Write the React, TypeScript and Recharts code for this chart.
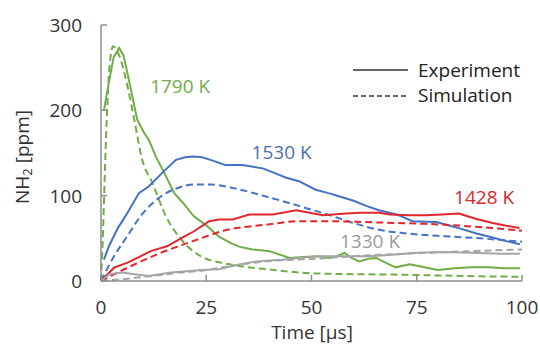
import React from 'react';
import { LineChart, Line, XAxis, YAxis, ReferenceDot } from 'recharts';

const timeTicks = [0, 25, 50, 75, 100];
const ppmTicks = [0, 100, 200, 300];

// 1790 K
const exp1790T = [0.7, 1.7, 3, 4.3, 5.3, 6.3, 7.5, 8.6, 10.2, 11.4, 13, 15, 17.4, 19.4, 22, 25.3, 28, 31, 33, 36, 40, 44.8, 48, 52, 54, 56, 57.9, 59.5, 61.4, 63.5, 65.4, 67.8, 70, 73.3, 76, 80, 84, 88, 92, 96, 99.5];
const exp1790V = [200, 228, 262, 273, 265, 243, 215, 189, 174, 165, 146, 127, 103, 92, 76, 64, 52, 44, 40, 37, 35, 27, 28, 29, 27, 29, 33, 27, 23, 26, 27, 21, 16, 19.5, 17, 13, 15, 16, 16, 15, 15];
const sim1790T = [0, 0.5, 1, 1.5, 2, 2.9, 3.8, 4.7, 6.3, 7.9, 9.8, 12.2, 15.4, 19, 23.7, 28.5, 33, 40, 50, 60, 70, 80, 90, 100];
const sim1790V = [0, 60, 140, 205, 250, 275, 270, 259, 228, 189, 142, 115, 76, 49, 29, 21.5, 17.5, 13.5, 9, 8, 7.5, 6.5, 5.5, 5];

// 1530 K
const exp1530T = [0.7, 1.9, 4, 6.3, 9, 11.4, 14.6, 17.8, 20, 22, 24, 26, 29.5, 33.6, 38.4, 41, 44, 47, 51, 54, 56.7, 60, 63, 66, 70.2, 74, 79.7, 82, 85, 89, 93, 96, 99.5];
const exp1530V = [25, 41, 62, 80, 103, 111, 127, 142, 145, 146, 145, 142, 136, 136, 132, 127, 121, 117, 107, 103, 99, 94, 88, 83, 78, 70, 69, 66, 62, 56, 51, 47, 43];
const sim1530T = [0, 3.1, 6.3, 9.4, 14.2, 18.2, 22, 26, 31.3, 39.2, 47, 55, 60, 66, 72, 80, 90, 100];
const sim1530V = [0, 29, 53, 76, 99, 109, 113, 113, 109, 99, 88, 76, 68, 60, 56, 53, 50, 46];

// 1428 K
const exp1428T = [0, 3.1, 6.3, 9, 11.8, 15.8, 19.4, 22, 25.7, 28, 31.3, 35.2, 40.8, 46.4, 49.5, 52.7, 55, 58.3, 61.4, 66, 68.6, 73, 77.3, 81, 85, 89, 93, 96, 99.4];
const exp1428V = [0, 15.6, 21.5, 28, 35, 41, 51, 58, 70, 72, 72, 78, 78, 83, 80, 77, 78, 79, 80, 80, 78, 77, 77, 78, 79, 73, 68, 65, 62];
const sim1428T = [0, 6.3, 14.2, 22, 30, 39.2, 47, 55, 63, 70, 77, 85, 93, 100];
const sim1428V = [0, 15.6, 33, 47, 60, 66, 70, 70, 69, 68, 67, 65, 62, 59];

// 1330 K
const exp1330T = [0, 2, 5, 8, 11.4, 14, 16.6, 21.3, 23.7, 28, 32.9, 36.8, 43, 51, 59, 63.8, 70, 75, 81, 88, 95, 99.5];
const exp1330V = [0, 8, 10, 8, 6, 8, 10, 11.7, 13, 13.7, 19.5, 23, 25, 29, 29, 29, 31, 33, 34, 33, 32, 32];
const sim1330T = [0, 5, 8.6, 14.2, 19, 23.7, 30, 39.2, 51, 63, 77.3, 88, 100];
const sim1330V = [0, 2, 4, 7, 10, 12, 17, 23, 26, 30, 33, 35, 37];

const labelTexts = ['1790 K', '1530 K', '1428 K', '1330 K'];
const labelT = [18.8, 42.9, 91, 63.9];
const labelV = [228.7, 150.4, 97.8, 46.7];

const legendNames = ['Experiment', 'Simulation'];

const GREEN = '#70ad47';
const BLUE = '#4472c4';
const RED = '#e3262b';
const GREY = '#a5a5a5';
const labelColors = ['#70ad47', '#4a6fae', '#d9262c', '#9a9a9a'];

const FONT = '"Open Sans", sans-serif';
const TXT = '#333333';
const AXIS = '#8c8c8c';

const zip = (t: number[], v: number[]) => t.map((x, i) => ({ t: x, v: v[i] }));

const XTick = (props: any) => {
  const { x, y, payload } = props;
  return (
    <g>
      <line x1={x} x2={x} y1={y} y2={y - 6} stroke={AXIS} strokeWidth={1.5} />
      <text x={x} y={y + 33} textAnchor="middle" fontFamily={FONT} fontSize={19} fill={TXT}>
        {payload.value}
      </text>
    </g>
  );
};

const YTick = (props: any) => {
  const { x, y, payload } = props;
  return (
    <g>
      <line x1={x} x2={x + 6} y1={y} y2={y} stroke={AXIS} strokeWidth={1.5} />
      <text x={x - 19} y={y + 7} textAnchor="end" fontFamily={FONT} fontSize={19} fill={TXT}>
        {payload.value}
      </text>
    </g>
  );
};

const YTitle = () => (
  <text
    x={22}
    y={157}
    transform="rotate(-90 22 157)"
    textAnchor="middle"
    dominantBaseline="central"
    fontFamily={FONT}
    fontSize={19}
    fill={TXT}
  >
    NH<tspan dy={5} fontSize={13}>2</tspan>
    <tspan dy={-5}> [ppm]</tspan>
  </text>
);

const XTitle = () => (
  <text x={312} y={339} textAnchor="middle" fontFamily={FONT} fontSize={19} fill={TXT}>
    Time [µs]
  </text>
);

export default function App() {
  const series = [
    { d: zip(exp1790T, exp1790V), c: GREEN, dash: undefined, type: 'linear' },
    { d: zip(sim1790T, sim1790V), c: GREEN, dash: '7 4', type: 'monotone' },
    { d: zip(exp1530T, exp1530V), c: BLUE, dash: undefined, type: 'linear' },
    { d: zip(sim1530T, sim1530V), c: BLUE, dash: '7 4', type: 'monotone' },
    { d: zip(exp1428T, exp1428V), c: RED, dash: undefined, type: 'linear' },
    { d: zip(sim1428T, sim1428V), c: RED, dash: '7 4', type: 'monotone' },
    { d: zip(exp1330T, exp1330V), c: GREY, dash: undefined, type: 'linear' },
    { d: zip(sim1330T, sim1330V), c: GREY, dash: '7 4', type: 'monotone' },
  ];
  return (
    <div style={{ position: 'absolute', left: 0, top: 0, width: 540, height: 345, background: '#fff' }}>
      <LineChart width={540} height={345} margin={{ top: 25, right: 18, bottom: 0, left: 0 }}>
        <XAxis
          dataKey="t"
          type="number"
          domain={[0, 100]}
          ticks={timeTicks}
          interval={0}
          height={64}
          tickSize={0}
          tickMargin={0}
          axisLine={{ stroke: AXIS, strokeWidth: 1.5 }}
          tickLine={false}
          tick={<XTick />}
          label={{ content: <XTitle /> }}
        />
        <YAxis
          type="number"
          domain={[0, 300]}
          ticks={ppmTicks}
          interval={0}
          width={101}
          tickSize={0}
          tickMargin={0}
          axisLine={{ stroke: AXIS, strokeWidth: 1.5 }}
          tickLine={false}
          tick={<YTick />}
          label={{ content: <YTitle /> }}
        />
        {series.map((s, i) => (
          <Line
            key={i}
            data={s.d}
            dataKey="v"
            type={s.type as any}
            stroke={s.c}
            strokeWidth={2}
            strokeDasharray={s.dash}
            dot={false}
            activeDot={false}
            isAnimationActive={false}
          />
        ))}
        {labelTexts.map((txt, i) => (
          <ReferenceDot
            key={txt}
            x={labelT[i]}
            y={labelV[i]}
            r={0}
            stroke="none"
            fill="none"
            label={{ value: txt, position: 'center', fill: labelColors[i], fontSize: 19, fontFamily: FONT }}
          />
        ))}
      </LineChart>
      <svg
        width={540}
        height={345}
        style={{ position: 'absolute', left: 0, top: 0, pointerEvents: 'none' }}
      >
        <line x1={353} x2={408} y1={70} y2={70} stroke="#333" strokeWidth={1.5} />
        <text x={418} y={77} fontFamily={FONT} fontSize={19} fill="#222">
          {legendNames[0]}
        </text>
        <line x1={353} x2={408} y1={96} y2={96} stroke="#333" strokeWidth={1.5} strokeDasharray="5 3" />
        <text x={418} y={102} fontFamily={FONT} fontSize={19} fill="#222">
          {legendNames[1]}
        </text>
      </svg>
    </div>
  );
}
